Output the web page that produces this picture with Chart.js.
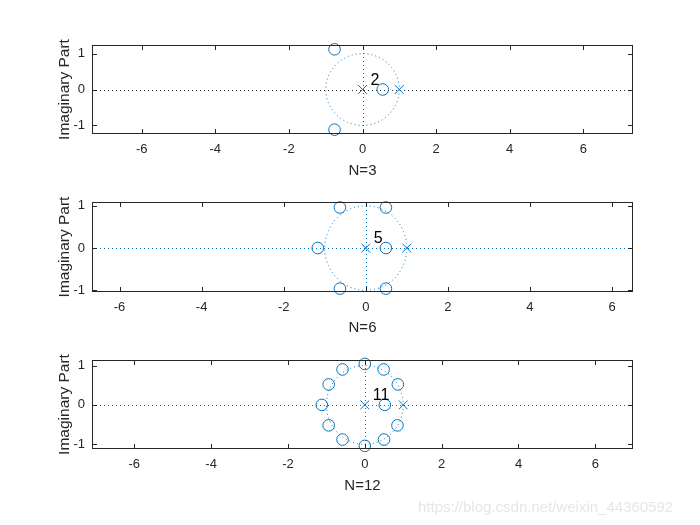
<!DOCTYPE html>
<html>
<head>
<meta charset="utf-8">
<script src="https://cdn.jsdelivr.net/npm/chart.js@4.4.1/dist/chart.umd.min.js"></script>
<style>
  body { margin: 0; background: #fff; }
  #wrap { position: relative; width: 700px; height: 525px; overflow: hidden; }
  #wrap canvas { position: absolute; left: 0; }
  #mark { position: absolute; left: 418px; top: 498px; font: 15px "Liberation Sans", Arial, sans-serif; color: #e6e6e6; white-space: nowrap; }
</style>
</head>
<body>
<div id="wrap">
  <canvas id="p3" width="700" height="180" style="top:0px"></canvas>
  <canvas id="p6" width="700" height="180" style="top:157px"></canvas>
  <canvas id="p12" width="700" height="180" style="top:315px"></canvas>
  <div id="mark">https://blog.csdn.net/weixin_44360592</div>
</div>
<script>
const xTicks = [-6, -4, -2, 0, 2, 4, 6];
const yTicks = [-1, 0, 1];

// N=3
const n3ZerosRe = [-0.76, -0.76, 0.55];
const n3ZerosIm = [1.12, -1.12, 0];
const n3PolesRe = [0, 1];
const n3PolesIm = [0, 0];
const n3Mult = "2";

// N=6
const n6ZerosRe = [-0.63, 0.49, -1.17, 0.49, -0.63, 0.49];
const n6ZerosIm = [0.96, 0.96, 0, 0, -0.96, -0.96];
const n6PolesRe = [0, 1];
const n6PolesIm = [0, 0];
const n6Mult = "5";

// N=12
const n12ZerosRe = [0, 0.49, 0.86, -0.58, -0.94, -1.12, -0.94, -0.58, 0, 0.5, 0.85, 0.52];
const n12ZerosIm = [1.04, 0.9, 0.52, 0.9, 0.52, 0, -0.52, -0.88, -1.04, -0.88, -0.52, 0];
const n12PolesRe = [0, 1];
const n12PolesIm = [0, 0];
const n12Mult = "11";

const BLUE = "#0072BD";
const INK = "#262626";
const FONT = "'Liberation Sans', Arial, Helvetica, sans-serif";

const zplane = {
  id: "zplane",
  beforeDatasetsDraw(chart, args, opts) {
    const { ctx, chartArea: a, scales: { x, y } } = chart;
    const x0 = x.getPixelForValue(0), y0 = y.getPixelForValue(0);
    const rx = x.getPixelForValue(1) - x0, ry = y0 - y.getPixelForValue(1);
    ctx.save();
    ctx.lineWidth = 1;
    ctx.setLineDash([1, 3]);
    ctx.strokeStyle = BLUE;
    ctx.beginPath();
    ctx.ellipse(x0, y0, rx, ry, 0, 0, Math.PI * 2);
    ctx.stroke();
    ctx.beginPath();
    ctx.moveTo(Math.round(x0) + 0.5, a.top);
    ctx.lineTo(Math.round(x0) + 0.5, a.bottom);
    ctx.stroke();
    ctx.strokeStyle = opts.hColor || BLUE;
    ctx.beginPath();
    ctx.moveTo(a.left, Math.round(y0) + 0.5);
    ctx.lineTo(a.right, Math.round(y0) + 0.5);
    ctx.stroke();
    ctx.restore();
  },
  afterDatasetsDraw(chart, args, opts) {
    const { ctx, chartArea: a, scales: { x, y } } = chart;
    ctx.save();
    ctx.strokeStyle = INK;
    ctx.lineWidth = 1;
    ctx.strokeRect(a.left + 0.5, a.top + 0.5, a.right - a.left - 1, a.bottom - a.top - 1);
    ctx.beginPath();
    xTicks.forEach(v => {
      const px = Math.round(x.getPixelForValue(v)) + 0.5;
      ctx.moveTo(px, a.bottom); ctx.lineTo(px, a.bottom - 5);
      ctx.moveTo(px, a.top); ctx.lineTo(px, a.top + 5);
    });
    yTicks.forEach(v => {
      const py = Math.round(y.getPixelForValue(v)) + 0.5;
      ctx.moveTo(a.left, py); ctx.lineTo(a.left + 5, py);
      ctx.moveTo(a.right, py); ctx.lineTo(a.right - 5, py);
    });
    ctx.stroke();
    // pole multiplicity
    ctx.fillStyle = "#000";
    ctx.font = "16px " + FONT;
    ctx.textAlign = "left";
    ctx.textBaseline = "middle";
    ctx.fillText(opts.mult, x.getPixelForValue(0) + 8, y.getPixelForValue(0) - 9);
    ctx.restore();
  }
};

function toPoints(re, im) {
  return re.map((r, i) => ({ x: r, y: im[i] }));
}

function makePlot(id, label, zRe, zIm, pRe, pIm, mult, lim, boxH, hColor) {
  new Chart(document.getElementById(id), {
    type: "scatter",
    data: {
      datasets: [
        {
          data: toPoints(zRe, zIm),
          pointStyle: "circle",
          pointRadius: 5.8,
          borderColor: BLUE,
          backgroundColor: "rgba(0,0,0,0)",
          borderWidth: 1,
          clip: false,
        },
        {
          data: toPoints(pRe, pIm),
          pointStyle: "crossRot",
          pointRadius: 6.2,
          borderColor: BLUE,
          borderWidth: 1,
          clip: false,
        },
      ],
    },
    plugins: [zplane],
    options: {
      responsive: false,
      animation: false,
      layout: { padding: { left: 0, right: 67, top: 45, bottom: 0 } },
      plugins: {
        legend: { display: false },
        tooltip: { enabled: false },
        zplane: { mult: mult, hColor: hColor },
      },
      scales: {
        x: {
          type: "linear",
          min: lim[0],
          max: lim[1],
          afterBuildTicks: s => { s.ticks = xTicks.map(v => ({ value: v })); },
          afterFit: s => { s.height = 180 - 45 - boxH; },
          grid: { display: false, drawTicks: false },
          border: { display: false },
          ticks: { autoSkip: false, maxRotation: 0, padding: 8, color: INK, font: { size: 13, family: FONT } },
          title: { display: true, text: label, color: INK, font: { size: 15, family: FONT }, padding: { top: 0, bottom: 0 } },
        },
        y: {
          type: "linear",
          min: lim[2],
          max: lim[3],
          afterBuildTicks: s => { s.ticks = yTicks.map(v => ({ value: v })); },
          afterFit: s => { s.width = 92; },
          grid: { display: false, drawTicks: false },
          border: { display: false },
          ticks: { padding: 7, color: INK, font: { size: 13, family: FONT } },
          title: { display: true, text: "Imaginary Part", color: INK, font: { size: 15.5, family: FONT }, padding: { top: 55, bottom: 0 } },
        },
      },
    },
  });
}

makePlot("p3", "N=3", n3ZerosRe, n3ZerosIm, n3PolesRe, n3PolesIm, n3Mult, [-7.35, 7.35, -1.24, 1.24], 89, "#333333");
makePlot("p6", "N=6", n6ZerosRe, n6ZerosIm, n6PolesRe, n6PolesIm, n6Mult, [-6.67, 6.51, -1.04, 1.09], 90);
makePlot("p12", "N=12", n12ZerosRe, n12ZerosIm, n12PolesRe, n12PolesIm, n12Mult, [-7.1, 6.98, -1.12, 1.14], 89);
</script>
</body>
</html>
